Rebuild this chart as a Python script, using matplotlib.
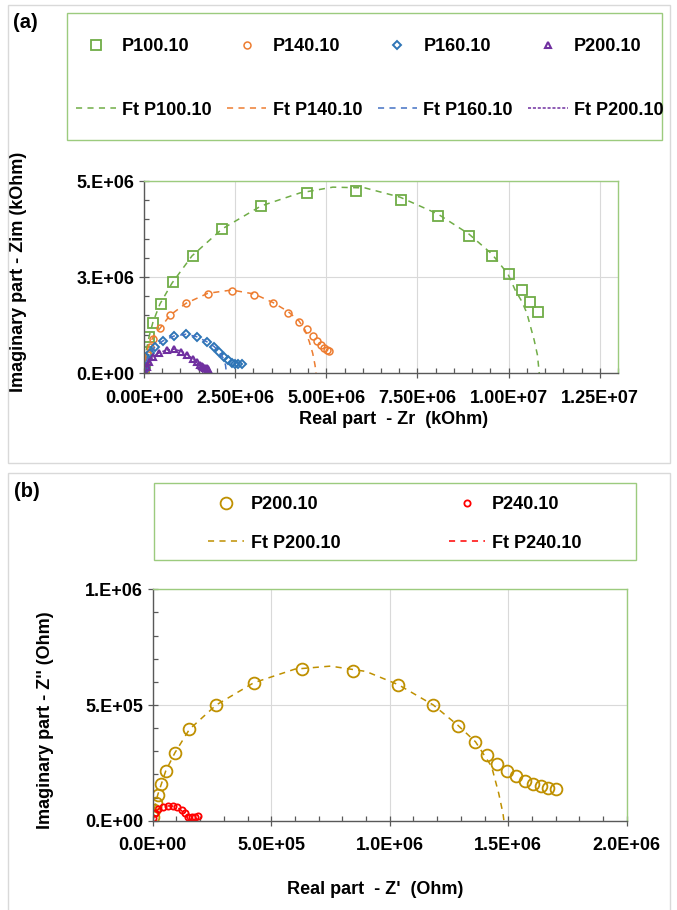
import matplotlib

matplotlib.use("Agg")
import matplotlib.pyplot as plt
from matplotlib.patches import Rectangle
from matplotlib.ticker import MultipleLocator

plt.rcParams["font.family"] = ["Liberation Sans", "DejaVu Sans"]
plt.rcParams["font.weight"] = "bold"

W, H = 677, 910
FS = 12.96  # 18 px text at 100 dpi

# ---- panel (a): Nyquist data, kOhm ----
P100_ZR = [0.01e6, 0.03e6, 0.06e6, 0.137e6, 0.255e6, 0.458e6, 0.787e6, 1.336e6,
           2.13e6, 3.20e6, 4.46e6, 5.81e6, 7.04e6, 8.07e6, 8.91e6, 9.54e6,
           10.01e6, 10.36e6, 10.60e6, 10.81e6]
P100_ZIM = [0.08e6, 0.25e6, 0.55e6, 0.945e6, 1.31e6, 1.79e6, 2.36e6, 3.05e6,
            3.75e6, 4.36e6, 4.70e6, 4.74e6, 4.51e6, 4.09e6, 3.56e6, 3.05e6,
            2.58e6, 2.16e6, 1.85e6, 1.58e6]
FT100_ZR = [0, 0.055e6, 0.137e6, 0.247e6, 0.439e6, 0.768e6, 1.317e6, 2.14e6,
            3.21e6, 4.28e6, 5.18e6, 6.06e6, 7.02e6, 8.06e6, 8.91e6, 9.54e6,
            9.98e6, 10.18e6, 10.37e6, 10.50e6, 10.70e6, 10.79e6, 10.84e6]
FT100_ZIM = [0, 0.547e6, 0.9375e6, 1.33e6, 1.80e6, 2.34e6, 3.05e6, 3.75e6,
             4.35e6, 4.69e6, 4.84e6, 4.82e6, 4.58e6, 4.14e6, 3.62e6, 3.10e6,
             2.58e6, 2.16e6, 1.85e6, 1.56e6, 0.86e6, 0.47e6, 0]

P140_ZR = [0.02e6, 0.055e6, 0.10e6, 0.165e6, 0.255e6, 0.439e6, 0.721e6, 1.152e6,
           1.747e6, 2.405e6, 3.025e6, 3.546e6, 3.958e6, 4.251e6, 4.462e6,
           4.627e6, 4.753e6, 4.855e6, 4.945e6, 5.011e6, 5.082e6]
P140_ZIM = [0.08e6, 0.26e6, 0.47e6, 0.685e6, 0.885e6, 1.164e6, 1.503e6, 1.815e6,
            2.057e6, 2.143e6, 2.039e6, 1.815e6, 1.570e6, 1.336e6, 1.138e6,
            0.964e6, 0.833e6, 0.729e6, 0.643e6, 0.599e6, 0.573e6]
FT140_ZR = [0, 0.027e6, 0.118e6, 0.255e6, 0.439e6, 0.713e6, 1.152e6, 1.747e6,
            2.405e6, 3.025e6, 3.546e6, 3.958e6, 4.251e6, 4.416e6, 4.534e6,
            4.627e6, 4.690e6, 4.717e6]
FT140_ZIM = [0, 0.339e6, 0.685e6, 0.945e6, 1.164e6, 1.503e6, 1.815e6, 2.075e6,
             2.161e6, 2.057e6, 1.831e6, 1.596e6, 1.354e6, 1.120e6, 0.815e6,
             0.513e6, 0.208e6, 0]

P160_ZR = [0.01e6, 0.027e6, 0.074e6, 0.165e6, 0.302e6, 0.513e6, 0.823e6, 1.152e6,
           1.445e6, 1.720e6, 1.928e6, 2.065e6, 2.194e6, 2.312e6, 2.405e6,
           2.496e6, 2.586e6, 2.680e6]
P160_ZIM = [0.05e6, 0.164e6, 0.339e6, 0.529e6, 0.685e6, 0.833e6, 0.964e6, 1.016e6,
            0.945e6, 0.815e6, 0.685e6, 0.555e6, 0.424e6, 0.339e6, 0.268e6,
            0.234e6, 0.227e6, 0.227e6]
FT160_ZR = [0, 0.027e6, 0.074e6, 0.165e6, 0.302e6, 0.513e6, 0.823e6, 1.152e6,
            1.445e6, 1.720e6, 1.928e6, 2.060e6, 2.170e6, 2.235e6, 2.260e6]
FT160_ZIM = [0, 0.164e6, 0.339e6, 0.529e6, 0.685e6, 0.833e6, 0.964e6, 1.010e6,
             0.945e6, 0.815e6, 0.685e6, 0.547e6, 0.390e6, 0.210e6, 0]

P200_ZR = [0.01e6, 0.027e6, 0.074e6, 0.145e6, 0.255e6, 0.42e6, 0.623e6, 0.823e6,
           1.015e6, 1.188e6, 1.336e6, 1.445e6, 1.536e6, 1.58e6, 1.626e6,
           1.67e6, 1.72e6, 1.76e6]
P200_ZIM = [0.01e6, 0.034e6, 0.164e6, 0.294e6, 0.424e6, 0.529e6, 0.599e6, 0.617e6,
            0.555e6, 0.469e6, 0.365e6, 0.279e6, 0.208e6, 0.18e6, 0.164e6,
            0.14e6, 0.122e6, 0.11e6]
FT200_ZR = [0, 0.074e6, 0.145e6, 0.255e6, 0.42e6, 0.623e6, 0.82e6, 1.015e6,
            1.188e6, 1.34e6, 1.45e6, 1.53e6, 1.59e6, 1.62e6]
FT200_ZIM = [0, 0.164e6, 0.294e6, 0.424e6, 0.529e6, 0.599e6, 0.62e6, 0.57e6,
             0.48e6, 0.37e6, 0.27e6, 0.17e6, 0.08e6, 0]

A_XTICKS = [0, 2.5e6, 5e6, 7.5e6, 1e7, 1.25e7]
A_XTICKLABELS = ["0.00E+00", "2.50E+06", "5.00E+06", "7.50E+06", "1.00E+07", "1.25E+07"]
A_YTICKS = [0, 2.5e6, 5e6]
A_YTICKLABELS = ["0.E+00", "3.E+06", "5.E+06"]

# ---- panel (b): Nyquist data, Ohm ----
Q200_ZR = [0, 0.0055e6, 0.0127e6, 0.021e6, 0.034e6, 0.055e6, 0.094e6, 0.155e6,
           0.268e6, 0.426e6, 0.631e6, 0.847e6, 1.036e6, 1.184e6, 1.289e6,
           1.362e6, 1.412e6, 1.454e6, 1.495e6, 1.533e6, 1.571e6, 1.605e6,
           1.637e6, 1.669e6, 1.700e6]
Q200_ZIM = [0.017e6, 0.046e6, 0.078e6, 0.111e6, 0.157e6, 0.215e6, 0.294e6, 0.395e6,
            0.500e6, 0.596e6, 0.654e6, 0.648e6, 0.588e6, 0.500e6, 0.411e6,
            0.341e6, 0.284e6, 0.244e6, 0.215e6, 0.193e6, 0.172e6, 0.160e6,
            0.151e6, 0.143e6, 0.137e6]
FTQ200_ZR = [0, 0.006e6, 0.021e6, 0.055e6, 0.094e6, 0.155e6, 0.268e6, 0.426e6,
             0.6e6, 0.75e6, 0.9e6, 1.036e6, 1.184e6, 1.289e6, 1.362e6, 1.43e6,
             1.46e6, 1.478e6, 1.482e6]
FTQ200_ZIM = [0, 0.046e6, 0.111e6, 0.215e6, 0.294e6, 0.395e6, 0.5e6, 0.596e6,
              0.655e6, 0.668e6, 0.645e6, 0.588e6, 0.5e6, 0.411e6, 0.341e6, 0.234e6,
              0.118e6, 0.031e6, 0]

Q240_ZR = [0.0025e6, 0.0097e6, 0.024e6, 0.045e6, 0.066e6, 0.087e6, 0.104e6,
           0.123e6, 0.137e6, 0.151e6, 0.165e6, 0.179e6, 0.193e6]
Q240_ZIM = [0.010e6, 0.032e6, 0.049e6, 0.058e6, 0.0635e6, 0.0635e6, 0.058e6,
            0.046e6, 0.032e6, 0.017e6, 0.0147e6, 0.017e6, 0.020e6]
FTQ240_ZR = [0, 0.01e6, 0.03e6, 0.06e6, 0.09e6, 0.115e6, 0.135e6, 0.148e6, 0.152e6]
FTQ240_ZIM = [0, 0.035e6, 0.055e6, 0.064e6, 0.063e6, 0.05e6, 0.03e6, 0.01e6, 0]

B_XTICKS = [0, 5e5, 1e6, 1.5e6, 2e6]
B_XTICKLABELS = ["0.0E+00", "5.0E+05", "1.0E+06", "1.5E+06", "2.0E+06"]
B_YTICKS = [0, 5e5, 1e6]
B_YTICKLABELS = ["0.E+00", "5.E+05", "1.E+06"]

GREEN = "#70AD47"
FRAME_GREEN = "#9CCB7E"
AXIS_GRAY = "#595959"
DASH = (0, (4, 3.5))


def fx(px):
    return px / W


def fy(py):
    return 1 - py / H


def style_axes(ax, xticks, xlabels, yticks, ylabels, xminor, yminor):
    ax.set_xticks(xticks, xlabels)
    ax.set_yticks(yticks, ylabels)
    ax.xaxis.set_minor_locator(MultipleLocator(xminor))
    ax.yaxis.set_minor_locator(MultipleLocator(yminor))
    ax.grid(which="major", color="#D9D9D9", linewidth=0.8)
    ax.set_axisbelow(True)
    ax.tick_params(which="major", direction="inout", length=7, width=0.9,
                   color=AXIS_GRAY, labelsize=FS)
    ax.tick_params(which="minor", direction="in", length=3.5, width=0.9,
                   color=AXIS_GRAY)
    ax.tick_params(axis="x", which="major", pad=8.5)
    ax.tick_params(axis="y", which="major", pad=3.5)
    for side in ("left", "bottom"):
        ax.spines[side].set_color(AXIS_GRAY)
        ax.spines[side].set_linewidth(1.0)
    for side in ("top", "right"):
        ax.spines[side].set_color(FRAME_GREEN)
        ax.spines[side].set_linewidth(1.0)
    for label in ax.get_xticklabels() + ax.get_yticklabels():
        label.set_fontweight("bold")


fig = plt.figure(figsize=(W / 100, H / 100), dpi=100)

# light gray chart-area frames
fig.add_artist(Rectangle((fx(8), fy(463)), fx(670) - fx(8), fy(5) - fy(463),
                         transform=fig.transFigure, fill=False,
                         edgecolor="#D9D9D9", linewidth=1.0))
fig.add_artist(Rectangle((fx(8), fy(912)), fx(670) - fx(8), fy(473) - fy(912),
                         transform=fig.transFigure, fill=False,
                         edgecolor="#D9D9D9", linewidth=1.0))

# ---------------- panel (a) ----------------
ax_a = fig.add_axes([fx(144), fy(373), 474 / W, 192 / H])
m100, = ax_a.plot(P100_ZR, P100_ZIM, linestyle="none", marker="s", markersize=7.5,
                  markerfacecolor="none", markeredgecolor=GREEN,
                  markeredgewidth=1.3, label="P100.10")
m140, = ax_a.plot(P140_ZR, P140_ZIM, linestyle="none", marker="o", markersize=5,
                  markerfacecolor="none", markeredgecolor="#ED7D31",
                  markeredgewidth=1.1, label="P140.10")
m160, = ax_a.plot(P160_ZR, P160_ZIM, linestyle="none", marker="D", markersize=4,
                  markerfacecolor="none", markeredgecolor="#2E75B6",
                  markeredgewidth=1.4, label="P160.10")
m200, = ax_a.plot(P200_ZR, P200_ZIM, linestyle="none", marker="^", markersize=4,
                  markerfacecolor="none", markeredgecolor="#7030A0",
                  markeredgewidth=1.5, label="P200.10")
f100, = ax_a.plot(FT100_ZR, FT100_ZIM, color=GREEN, linestyle=DASH,
                  linewidth=1.1, label="Ft P100.10")
f140, = ax_a.plot(FT140_ZR, FT140_ZIM, color="#ED7D31", linestyle=DASH,
                  linewidth=1.1, label="Ft P140.10")
f160, = ax_a.plot(FT160_ZR, FT160_ZIM, color="#4472C4", linestyle=DASH,
                  linewidth=1.1, label="Ft P160.10")
f200, = ax_a.plot(FT200_ZR, FT200_ZIM, color="#7030A0", linestyle=(0, (2, 1.2)),
                  linewidth=1.1, label="Ft P200.10")
ax_a.set_xlim(0, 1.3e7)
ax_a.set_ylim(0, 5e6)
style_axes(ax_a, A_XTICKS, A_XTICKLABELS, A_YTICKS, A_YTICKLABELS, 5e5, 5e5)
ax_a.set_xlabel("Real part  - Zr  (kOhm)", fontsize=FS, fontweight="bold")
ax_a.set_ylabel("Imaginary part - Zim (kOhm)", fontsize=FS, fontweight="bold")
ax_a.xaxis.set_label_coords((394 - 144) / 474, (373 - 411) / 192)
ax_a.yaxis.set_label_coords((27 - 144) / 474, (373 - 272) / 192)

fig.add_artist(Rectangle((fx(67), fy(140)), fx(662) - fx(67), fy(13) - fy(140),
                         transform=fig.transFigure, fill=False,
                         edgecolor=FRAME_GREEN, linewidth=1.0))
fig.legend(handles=[m100, f100, m140, f140, m160, f160, m200, f200],
           ncol=4, loc="upper left", bbox_to_anchor=(fx(76), fy(38)),
           frameon=False, borderpad=0, borderaxespad=0,
           prop={"weight": "bold", "size": FS}, handlelength=2.2,
           handletextpad=0.35, columnspacing=0.85, labelspacing=2.6,
           numpoints=1)
fig.text(fx(13), fy(22), "(a)", fontsize=14.4, fontweight="bold",
         ha="left", va="center")

# ---------------- panel (b) ----------------
ax_b = fig.add_axes([fx(152.7), fy(820.7), 474 / W, 231.4 / H])
n200, = ax_b.plot(Q200_ZR, Q200_ZIM, linestyle="none", marker="o", markersize=8.5,
                  markerfacecolor="none", markeredgecolor="#BF9000",
                  markeredgewidth=1.3, label="P200.10")
n240, = ax_b.plot(Q240_ZR, Q240_ZIM, linestyle="none", marker="o", markersize=4.5,
                  markerfacecolor="none", markeredgecolor="#FF0000",
                  markeredgewidth=1.3, label="P240.10")
g200, = ax_b.plot(FTQ200_ZR, FTQ200_ZIM, color="#BF9000", linestyle=DASH,
                  linewidth=1.1, label="Ft P200.10")
g240, = ax_b.plot(FTQ240_ZR, FTQ240_ZIM, color="#FF0000", linestyle=DASH,
                  linewidth=1.1, label="Ft P240.10")
ax_b.set_xlim(0, 2e6)
ax_b.set_ylim(0, 1e6)
style_axes(ax_b, B_XTICKS, B_XTICKLABELS, B_YTICKS, B_YTICKLABELS, 1e5, 1e5)
ax_b.set_xlabel("Real part  - Z'  (Ohm)", fontsize=FS, fontweight="bold")
ax_b.set_ylabel("Imaginary part - Z'' (Ohm)", fontsize=FS, fontweight="bold")
ax_b.xaxis.set_label_coords((375 - 152.7) / 474, (820.7 - 881) / 231.4)
ax_b.yaxis.set_label_coords((54 - 152.7) / 474, (820.7 - 720) / 231.4)

fig.add_artist(Rectangle((fx(154), fy(560)), fx(636) - fx(154), fy(483) - fy(560),
                         transform=fig.transFigure, fill=False,
                         edgecolor=FRAME_GREEN, linewidth=1.0))
fig.legend(handles=[n200, g200, n240, g240],
           ncol=2, loc="upper left", bbox_to_anchor=(fx(208), fy(496.5)),
           frameon=False, borderpad=0, borderaxespad=0,
           prop={"weight": "bold", "size": FS}, handlelength=2.0,
           handletextpad=0.4, columnspacing=6.0, labelspacing=1.17,
           numpoints=1)
fig.text(fx(14), fy(492), "(b)", fontsize=14.4, fontweight="bold",
         ha="left", va="center")

fig.savefig("out.png", dpi=100)
plt.close(fig)
